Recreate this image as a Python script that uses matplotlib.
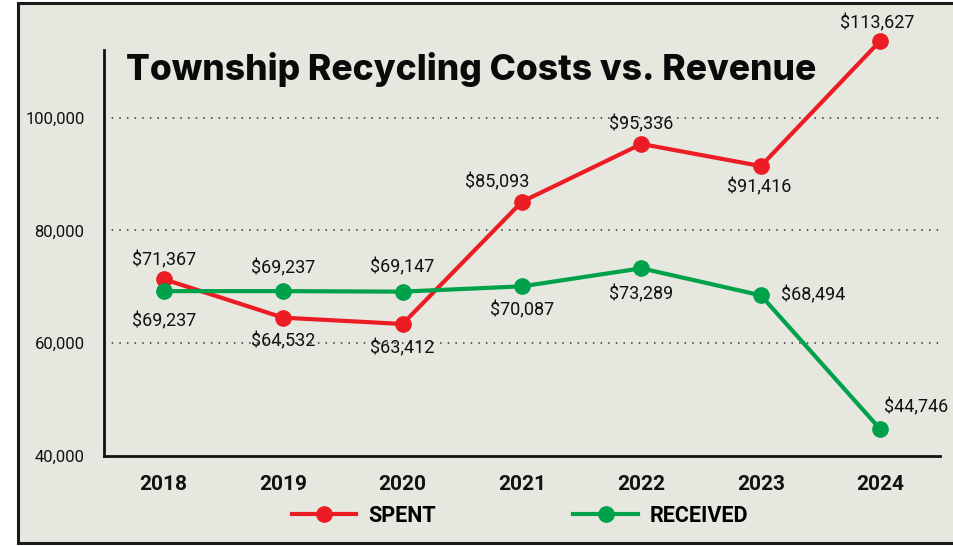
import matplotlib.pyplot as plt
from matplotlib.patches import Rectangle

# ------------------------------------------------------------
# Data
# ------------------------------------------------------------
years = ["2018", "2019", "2020", "2021", "2022", "2023", "2024"]
spent = [71367, 64532, 63412, 85093, 95336, 91416, 113627]
received = [69237, 69237, 69147, 70087, 73289, 68494, 44746]
y_ticks = [40000, 60000, 80000, 100000]

# label offsets in pixels (dx, dy, ha)
spent_offsets = [(0, 19, "center"), (0, -24, "center"), (0, -24, "center"),
                 (-25, 19, "center"), (0, 20, "center"), (-2, -21, "center"),
                 (-3, 18, "center")]
recv_offsets = [(0, -30, "center"), (0, 23, "center"), (0, 24, "center"),
                (0, -24, "center"), (0, -26, "center"), (20, 0, "left"),
                (4, 22, "left")]

RED = "#ec1c24"
GREEN = "#00a14b"
BG = "#e6e8df"
FONT = ["Roboto", "DejaVu Sans"]

fig = plt.figure(figsize=(9.54, 5.46), dpi=100)
fig.patch.set_facecolor("white")

# framed panel
fig.patches.append(Rectangle((18 / 954, 3 / 546), 1.0, 540 / 546,
                             transform=fig.transFigure, facecolor=BG,
                             edgecolor="#1a1a1a", linewidth=2.2, zorder=-5))

ax = fig.add_axes([104 / 954, 90 / 546, 836 / 954, 406 / 546])
ax.set_facecolor("none")

x = list(range(len(years)))
ax.plot(x, spent, color=RED, lw=3, marker="o", ms=11, label="SPENT",
        clip_on=False, zorder=3)
ax.plot(x, received, color=GREEN, lw=3, marker="o", ms=11, label="RECEIVED",
        clip_on=False, zorder=3)

for xi, v, (dx, dy, ha) in zip(x, spent, spent_offsets):
    ax.annotate(f"${v:,}", (xi, v), xytext=(dx, dy), textcoords="offset pixels",
                ha=ha, va="center", fontsize=13, family=FONT, color="#111",
                annotation_clip=False)
for xi, v, (dx, dy, ha) in zip(x, received, recv_offsets):
    ax.annotate(f"${v:,}", (xi, v), xytext=(dx, dy), textcoords="offset pixels",
                ha=ha, va="center", fontsize=13, family=FONT, color="#111",
                annotation_clip=False)

ax.set_xlim(-0.5, 6.5)
ax.set_ylim(40000, 112000)
ax.set_xticks(x)
ax.set_xticklabels(years, fontsize=15, fontweight="bold", family=FONT)
ax.set_yticks(y_ticks)
ax.set_yticklabels([f"{t:,}" for t in y_ticks], fontsize=12, family=FONT)
ax.tick_params(axis="both", length=0, colors="#111")
ax.tick_params(axis="x", pad=14)
ax.tick_params(axis="y", pad=14)

for t in y_ticks[1:]:
    ax.axhline(t, color="#333", lw=1.1, ls=(0, (1, 4)), zorder=1)

for s in ["top", "right"]:
    ax.spines[s].set_visible(False)
for s in ["left", "bottom"]:
    ax.spines[s].set_linewidth(2)
    ax.spines[s].set_color("#111")

fig.text(0.494, 0.872, "Township Recycling Costs vs. Revenue", ha="center",
         va="center", fontsize=25.5, fontweight=800, family="Inter",
         color="#0a0a0a")

fig.legend(loc="center", bbox_to_anchor=(0.545, 1 - 516 / 546), ncol=2,
           frameon=False, prop={"family": FONT, "size": 15.5, "weight": "bold"},
           handlelength=3, handletextpad=0.55, columnspacing=6.4)

fig.savefig("out.png", dpi=100, facecolor=fig.get_facecolor())
